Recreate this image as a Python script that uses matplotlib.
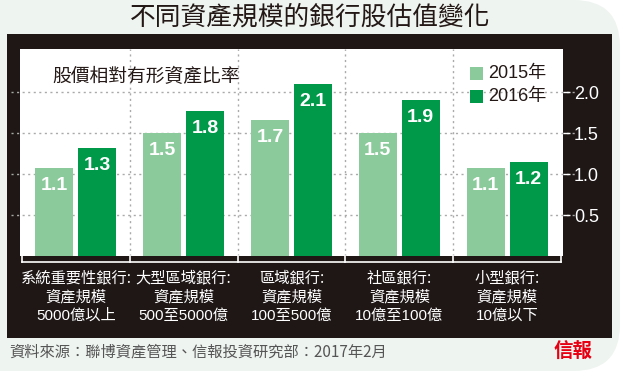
import matplotlib
matplotlib.use("Agg")
import matplotlib.pyplot as plt
from matplotlib.patches import Rectangle, FancyBboxPatch
from matplotlib.lines import Line2D
import numpy as np

# ---- data ----
title = "不同資產規模的銀行股估值變化"
subtitle = "股價相對有形資產比率"
categories = [
    ["系統重要性銀行:", "資產規模", "5000億以上"],
    ["大型區域銀行:", "資產規模", "500至5000億"],
    ["區域銀行:", "資產規模", "100至500億"],
    ["社區銀行:", "資產規模", "10億至100億"],
    ["小型銀行:", "資產規模", "10億以下"],
]
series_names = ["2015年", "2016年"]
values_2015 = [1.07, 1.50, 1.66, 1.50, 1.07]
values_2016 = [1.32, 1.77, 2.10, 1.90, 1.15]
labels_2015 = ["1.1", "1.5", "1.7", "1.5", "1.1"]
labels_2016 = ["1.3", "1.8", "2.1", "1.9", "1.2"]
yticks = [0.5, 1.0, 1.5, 2.0]
yticklabels = ["0.5", "1.0", "1.5", "2.0"]
source = "資料來源：聯博資產管理、信報投資研究部：2017年2月"
logo = "信報"

# ---- style ----
W, H = 620, 371
BG = "#eef4f0"
FRAME = "#1e1716"
C15 = "#8bca9b"
C16 = "#00994a"
CJK = ["Noto Sans CJK TC", "DejaVu Sans"]
LAT = ["Liberation Sans", "Noto Sans CJK TC", "DejaVu Sans"]

def fx(px):
    return px / W

def fy(py):
    return 1 - py / H

fig = plt.figure(figsize=(W / 100, H / 100), dpi=100)
fig.patch.set_facecolor("white")

# background with rounded right corners
bg = FancyBboxPatch((fx(-60), fy(371)), fx(680), 1.0,
                    boxstyle="round,pad=0,rounding_size=0.075",
                    transform=fig.transFigure, facecolor=BG, edgecolor="none",
                    mutation_aspect=W / H, zorder=0)
fig.patches.append(bg)

# dark frame
frame = Rectangle((fx(7), fy(338)), fx(612 - 7), (338 - 34) / H,
                  transform=fig.transFigure, facecolor=FRAME, edgecolor="none", zorder=1)
fig.patches.append(frame)

# title
fig.text(fx(310), fy(18), title, ha="center", va="center", fontsize=18.5,
         family=CJK, fontweight="light", color="#231815")

# main axes (white plot area)
left, right, top, bottom = 20, 563, 49, 256
ax = fig.add_axes([fx(left), fy(bottom), fx(right - left), (bottom - top) / H])
ax.set_facecolor("white")
ax.set_zorder(2)
pxu = (561 - 22) / 5.0
ax.set_xlim(-0.5 - 2 / pxu, 4.5 + 2 / pxu)
ax.set_ylim(0, (bottom - top) / 82.0)
for s in ax.spines.values():
    s.set_visible(False)

x = np.arange(len(categories))
bw = 38 / pxu
off = 21.5 / pxu

# grid
for yv in yticks:
    ax.plot([-0.6, 4.6 + 5 / pxu], [yv, yv], linestyle=(0, (1.5, 2.5)), color="#aaaaaa",
            lw=1, zorder=1, clip_on=False)
for xv in [0.5, 1.5, 2.5, 3.5]:
    ax.axvline(xv, linestyle=(0, (1.5, 2.5)), color="#aaaaaa", lw=1, zorder=1)

b1 = ax.bar(x - off, values_2015, width=bw, color=C15, zorder=3)
b2 = ax.bar(x + off, values_2016, width=bw, color=C16, zorder=3)

for rects, labs in [(b1, labels_2015), (b2, labels_2016)]:
    for r, lab in zip(rects, labs):
        ax.annotate(lab, (r.get_x() + r.get_width() / 2, r.get_height()),
                    xytext=(0, -6.5), textcoords="offset points",
                    ha="center", va="top", color="white", fontsize=14,
                    fontweight="bold", family=LAT, zorder=4)

# y axis on right
ax.set_xticks([])
ax.yaxis.tick_right()
ax.set_yticks(yticks)
ax.set_yticklabels(yticklabels, family=LAT, fontsize=13)
ax.tick_params(axis="y", colors="white", length=5, width=1, pad=3, labelcolor="white")

# subtitle
fig.text(fx(52), fy(77), subtitle, ha="left", va="center", fontsize=13.5,
         family=CJK, color="#231815", zorder=5)

# legend
for i, (nm, col) in enumerate(zip(series_names, [C15, C16])):
    cy = 73.5 + i * 23
    fig.patches.append(Rectangle((fx(470), fy(cy + 6.5)), fx(13), 13 / H,
                                 transform=fig.transFigure, facecolor=col,
                                 edgecolor="none", zorder=5))
    fig.text(fx(488), fy(cy), nm, ha="left", va="center", fontsize=13,
             family=LAT, color="#231815", zorder=5)

# bottom axis line and ticks
fig.lines.append(Line2D([fx(22), fx(561)], [fy(262), fy(262)], transform=fig.transFigure,
                        color="white", lw=1.2, zorder=3))
for i in range(6):
    xp = 22 + i * pxu
    fig.lines.append(Line2D([fx(xp), fx(xp)], [fy(256), fy(262)], transform=fig.transFigure,
                            color="white", lw=1.2, zorder=3))

# category labels
for i, lines in enumerate(categories):
    cx = 22 + (i + 0.5) * pxu
    for j, t in enumerate(lines):
        fig.text(fx(cx), fy(278 + j * 19), t, ha="center", va="center",
                 fontsize=11, family=LAT if j == 2 else CJK, color="white", zorder=5)

# source
fig.text(fx(9), fy(352), source, ha="left", va="center", fontsize=11,
         family=CJK, color="#555555", zorder=5)

# logo
fig.text(fx(573), fy(352), logo, ha="center", va="center", fontsize=14,
         family=CJK, fontweight="bold", color="#e60012", zorder=5)

fig.savefig("out.png", dpi=100, facecolor=fig.get_facecolor())
